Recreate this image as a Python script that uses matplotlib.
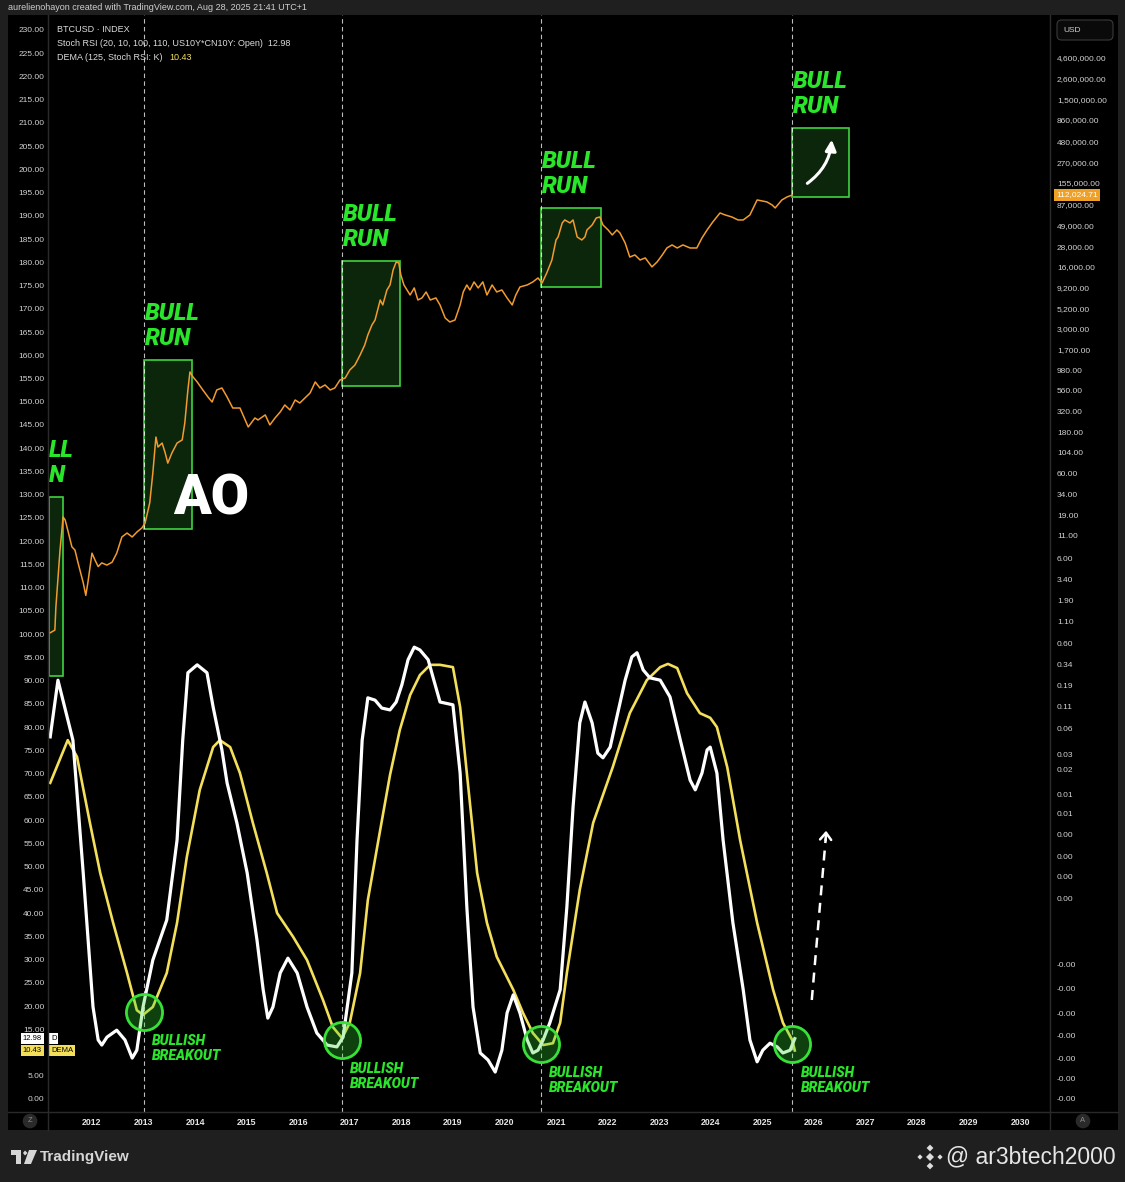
import numpy as np
import matplotlib
matplotlib.use("Agg")
import matplotlib.pyplot as plt
from matplotlib.patches import Rectangle, Polygon, FancyBboxPatch, FancyArrowPatch
from matplotlib import transforms

plt.rcParams['font.family'] = ['Liberation Sans', 'DejaVu Sans']

########################################################
# data
btc_dates = [2011.19, 2011.28, 2011.30, 2011.38, 2011.44, 2011.48, 2011.53, 2011.61, 2011.67, 2011.73,
             2011.83, 2011.88, 2011.92, 2012.00, 2012.06, 2012.12, 2012.19, 2012.29, 2012.39, 2012.48,
             2012.58, 2012.68, 2012.78, 2012.87, 2012.97, 2013.03, 2013.12, 2013.18, 2013.24, 2013.28,
             2013.36, 2013.42, 2013.47, 2013.55, 2013.65, 2013.75, 2013.80, 2013.86, 2013.90, 2013.96,
             2014.04, 2014.15, 2014.25, 2014.33, 2014.42, 2014.52, 2014.62, 2014.73, 2014.87, 2014.97,
             2015.03, 2015.16, 2015.22, 2015.36, 2015.45, 2015.55, 2015.65, 2015.74, 2015.84, 2015.94,
             2016.03, 2016.13, 2016.23, 2016.33, 2016.42, 2016.52, 2016.62, 2016.71, 2016.81, 2016.91,
             2017.00, 2017.10, 2017.20, 2017.29, 2017.35, 2017.43, 2017.49, 2017.59, 2017.64, 2017.72,
             2017.78, 2017.84, 2017.90, 2017.95, 2017.99, 2018.05, 2018.11, 2018.17, 2018.25, 2018.32,
             2018.40, 2018.48, 2018.56, 2018.67, 2018.75, 2018.85, 2018.94, 2019.04, 2019.14, 2019.20,
             2019.27, 2019.33, 2019.41, 2019.49, 2019.58, 2019.66, 2019.76, 2019.85, 2019.95, 2020.05,
             2020.15, 2020.22, 2020.30, 2020.44, 2020.55, 2020.65, 2020.73, 2020.82, 2020.92, 2021.00,
             2021.04, 2021.12, 2021.17, 2021.27, 2021.33, 2021.41, 2021.50, 2021.56, 2021.60, 2021.70,
             2021.78, 2021.85, 2021.91, 2022.01, 2022.09, 2022.18, 2022.24, 2022.34, 2022.43, 2022.53,
             2022.63, 2022.73, 2022.86, 2022.96, 2023.06, 2023.15, 2023.25, 2023.35, 2023.46, 2023.60,
             2023.73, 2023.83, 2023.93, 2024.04, 2024.18, 2024.28, 2024.41, 2024.53, 2024.63, 2024.76,
             2024.90, 2025.00, 2025.09, 2025.19, 2025.25, 2025.38, 2025.48, 2025.58]
btc_prices = [0.80, 0.86, 1.6, 7.5, 18.4, 16.9, 12.9, 8.2, 7.5, 5.3,
              3.1, 2.2, 3.1, 6.9, 5.7, 4.8, 5.3, 5.0, 5.4, 6.9,
              10.7, 11.9, 10.7, 12.2, 13.7, 15.6, 26.9, 60.5, 160, 122,
              136, 104, 79, 104, 136, 148, 234, 572, 931, 813,
              711, 572, 473, 413, 572, 604, 473, 351, 351, 254,
              210, 268, 254, 291, 222, 268, 315, 381, 333, 436,
              402, 461, 527, 711, 604, 655, 572, 604, 750, 791,
              982, 1125, 1475, 1935, 2535, 3325, 3800, 6535, 5710, 8570,
              9810, 14730, 18300, 17800, 12880, 9810, 8570, 7480, 9050, 6535,
              6910, 8120, 6535, 6910, 5710, 4015, 3600, 3800, 5710, 8120,
              9810, 8570, 10650, 9050, 10650, 7480, 9810, 8120, 8570, 6910,
              5710, 7480, 9300, 9810, 10650, 11860, 10360, 13590, 19300, 33170,
              35970, 52600, 57000, 52600, 57000, 35970, 33170, 35970, 43500, 49800,
              60200, 61800, 49800, 43500, 38000, 43500, 40100, 30600, 20900, 22100,
              19300, 20400, 16000, 18300, 22100, 26700, 29000, 26700, 29000, 26700,
              26700, 35000, 43500, 54000, 68900, 65300, 61800, 57000, 57000, 65300,
              98000, 95400, 92900, 85600, 78900, 98000, 106300, 112024.71]

stoch_dates = [2011.19, 2011.34, 2011.63, 2011.83, 2012.02, 2012.12, 2012.19, 2012.29, 2012.48, 2012.64,
               2012.78, 2012.87, 2012.99, 2013.18, 2013.45, 2013.65, 2013.76, 2013.86, 2014.04, 2014.23,
               2014.35, 2014.52, 2014.62, 2014.81, 2015.01, 2015.20, 2015.32, 2015.41, 2015.51, 2015.65,
               2015.80, 2015.98, 2016.17, 2016.36, 2016.56, 2016.75, 2016.87, 2017.04, 2017.14, 2017.24,
               2017.35, 2017.49, 2017.62, 2017.78, 2017.90, 2018.01, 2018.13, 2018.25, 2018.36, 2018.52,
               2018.63, 2018.75, 2019.00, 2019.14, 2019.27, 2019.39, 2019.53, 2019.68, 2019.82, 2019.95,
               2020.05, 2020.17, 2020.30, 2020.44, 2020.55, 2020.65, 2020.75, 2020.88, 2021.08, 2021.21,
               2021.33, 2021.46, 2021.56, 2021.70, 2021.81, 2021.91, 2022.05, 2022.18, 2022.34, 2022.47,
               2022.57, 2022.69, 2022.82, 2023.02, 2023.21, 2023.41, 2023.60, 2023.70, 2023.83, 2023.93,
               2023.99, 2024.12, 2024.24, 2024.43, 2024.63, 2024.76, 2024.90, 2025.01, 2025.15, 2025.29,
               2025.40, 2025.54, 2025.63]
stoch_k = [77.9, 90.1, 77.2, 48.6, 19.8, 12.7, 11.6, 13.3, 14.8, 12.7,
           8.8, 10.5, 19.8, 29.9, 38.5, 55.7, 77.2, 91.7, 93.4, 91.7,
           84.3, 75.1, 68.0, 59.4, 48.6, 34.2, 23.5, 17.4, 19.8, 27.1,
           30.3, 27.1, 19.8, 14.2, 11.6, 11.2, 13.3, 27.1, 55.7, 77.2,
           86.3, 85.8, 84.1, 83.7, 85.4, 89.1, 94.5, 97.2, 96.6, 94.5,
           90.1, 85.4, 84.8, 70.1, 41.3, 19.8, 9.9, 8.4, 5.8, 10.5,
           18.5, 22.4, 18.5, 12.7, 9.9, 10.5, 12.7, 16.4, 23.5, 41.3,
           62.8, 80.9, 85.4, 80.9, 74.4, 73.4, 75.7, 82.2, 90.1, 95.1,
           96.0, 92.3, 90.6, 90.1, 86.5, 77.2, 68.6, 66.5, 70.1, 75.1,
           75.7, 70.1, 55.7, 37.9, 23.5, 12.7, 8.0, 10.5, 12.0, 11.2,
           9.9, 10.5, 12.98]

dema_dates = [2011.19, 2011.53, 2011.71, 2011.96, 2012.16, 2012.41, 2012.68, 2012.87, 2012.99, 2013.18,
              2013.45, 2013.65, 2013.84, 2014.09, 2014.35, 2014.48, 2014.68, 2014.87, 2015.12, 2015.39,
              2015.59, 2015.90, 2016.17, 2016.48, 2016.67, 2016.85, 2017.00, 2017.20, 2017.35, 2017.59,
              2017.78, 2017.97, 2018.17, 2018.36, 2018.56, 2018.75, 2019.00, 2019.14, 2019.27, 2019.47,
              2019.66, 2019.85, 2020.17, 2020.36, 2020.55, 2020.75, 2020.94, 2021.08, 2021.21, 2021.46,
              2021.72, 2022.10, 2022.43, 2022.76, 2023.02, 2023.17, 2023.35, 2023.54, 2023.79, 2023.99,
              2024.12, 2024.32, 2024.57, 2024.90, 2025.21, 2025.40, 2025.58, 2025.63]
dema_vals = [68.0, 77.2, 73.6, 59.4, 48.6, 37.9, 27.1, 19.1, 18.1, 19.8,
             27.1, 37.9, 52.1, 66.5, 75.7, 77.2, 75.7, 70.1, 59.4, 48.6,
             40.0, 34.9, 29.9, 21.3, 15.5, 13.1, 16.4, 27.1, 42.8, 57.9,
             69.7, 79.4, 86.9, 91.2, 93.4, 93.4, 92.9, 84.3, 70.1, 48.6,
             37.9, 30.6, 23.5, 18.5, 14.2, 11.6, 12.0, 16.4, 27.1, 45.0,
             59.4, 71.4, 83.0, 90.1, 92.9, 93.6, 92.7, 87.3, 83.0, 82.0,
             80.0, 71.4, 55.7, 37.9, 23.5, 16.4, 12.7, 10.43]

# bull run boxes (start, end, low price, high price)
bull_starts = [2011.17, 2013.01, 2016.85, 2020.71, 2025.58]
bull_ends = [2011.44, 2013.94, 2017.97, 2021.87, 2026.68]
bull_lows = [0.25, 13.3, 637, 9300, 106300]
bull_highs = [31.6, 1289, 18800, 78900, 688000]

breakout_dates = [2013.01, 2016.85, 2020.71, 2025.58]
breakout_levels = [18.7, 12.7, 11.8, 11.8]

years = list(range(2012, 2031))
left_ticks = np.arange(0, 231, 5)
price_ticks = [4600000, 2600000, 1500000, 860000, 480000, 270000, 155000, 87000, 49000, 28000,
               16000, 9200, 5200, 3000, 1700, 980, 560, 320, 180, 104, 60, 34, 19, 11, 6, 3.4,
               1.9, 1.1, 0.6, 0.34, 0.19, 0.11, 0.06, 0.03, 0.02, 0.01, 0.006, 0.0034, 0.0019,
               0.0011, 0.0006]
neg_tick_levels = [29, 23.7, 18.3, 13.6, 8.8, 4.3, 0]

last_price = 112024.71
last_k = 12.98
last_dema = 10.43


# the log price scale sits on the same panel as the oscillator (0..230)
def price_level(p):
    return 224.0 + 18.3 * (np.log10(p) - np.log10(4.6e6))


########################################################
W, H = 1125, 1182
GREEN = '#2ae62a'


def px(x, y):
    return x / W, 1 - y / H


fig = plt.figure(figsize=(11.25, 11.82), dpi=100, facecolor='#1f1f1f')

x0, y0 = px(8, 1130)
x1, y1 = px(1118, 15)
fig.add_artist(Rectangle((x0, y0), x1 - x0, y1 - y0, transform=fig.transFigure,
                         facecolor='black', edgecolor='none', zorder=0))

l, b = px(48, 1112)
r, t = px(1050, 15)
ax = fig.add_axes([l, b, r - l, t - b])
ax.set_facecolor('black')
ax.set_xlim(2011.147, 2030.58)
ax.set_ylim(-2.8, 233.2)

ax.spines['top'].set_visible(False)
for s in ['left', 'right', 'bottom']:
    ax.spines[s].set_color('#2a2a2a')

# the 10.00 label is hidden under the value tags
ax.set_yticks(left_ticks)
ax.set_yticklabels(['' if v == 10 else '%.2f' % v for v in left_ticks])
ax.tick_params(axis='y', length=0, pad=2.5, labelsize=6, labelcolor='#d2d2d2')
ax.set_xticks(years)
ax.set_xticklabels([str(y) for y in years], fontweight='bold')
ax.tick_params(axis='x', length=0, pad=4, labelsize=6.3, labelcolor='#e6e6e6')

ax2 = ax.twinx()
ax2.set_ylim(ax.get_ylim())
for s in ax2.spines.values():
    s.set_visible(False)
tick_pos = [price_level(p) for p in price_ticks] + neg_tick_levels
tick_lab = ['{:,.2f}'.format(p) for p in price_ticks] + ['-0.00'] * len(neg_tick_levels)
ax2.set_yticks(tick_pos)
ax2.set_yticklabels(tick_lab)
ax2.tick_params(axis='y', length=0, pad=5, labelsize=6, labelcolor='#d2d2d2')

# bull run boxes
for s0, s1, lo, hi in zip(bull_starts, bull_ends, bull_lows, bull_highs):
    ax.add_patch(Rectangle((s0, price_level(lo)), s1 - s0, price_level(hi) - price_level(lo),
                           facecolor='#0c260c', edgecolor='#3fd33f', lw=1.2, zorder=1))
for s0, hi in zip(bull_starts[1:], bull_highs[1:]):
    ax.text(s0 + 0.01, price_level(hi) + 2.2, 'BULL\nRUN', ha='left', va='bottom', fontsize=17,
            family='Roboto', fontweight='black', style='italic', color=GREEN, linespacing=1.1, zorder=8)
# the first label is cut by the left edge of the chart: only its tail shows
ax.text(2011.16, price_level(bull_highs[0]) + 2.2, 'LL\nN', ha='left', va='bottom',
        fontsize=17, family='Roboto', fontweight='black', style='italic', color=GREEN,
        linespacing=1.1, zorder=8)

for d in breakout_dates:
    ax.axvline(d, color='white', lw=0.8, alpha=0.75, ls=(0, (4, 3)), zorder=2)

# lines
ax.plot(btc_dates, price_level(np.array(btc_prices)), color='#f29b2e', lw=1.1, zorder=3)
ax.plot(dema_dates, dema_vals, color='#f3df5a', lw=1.9, zorder=4, solid_joinstyle='round')
ax.plot(stoch_dates, stoch_k, color='white', lw=2.3, zorder=5, solid_joinstyle='round')

# breakout circles
ax.plot(breakout_dates, breakout_levels, 'o', ms=26, mfc=(0.2, 0.85, 0.2, 0.3), mec='#38e038',
        mew=2, zorder=6)
for d, lv in zip(breakout_dates, breakout_levels):
    ax.annotate('BULLISH\nBREAKOUT', xy=(d, lv), xytext=(6, -16), textcoords='offset points',
                ha='left', va='top', fontsize=10, family='Roboto', fontweight='black', style='italic',
                color=GREEN, linespacing=1.05, zorder=8)

ax.text(2014.31, 129.1, 'AO', ha='center', va='center', fontsize=40, family='Roboto',
        fontweight='black', color='white', zorder=8)

# arrows
ax.add_patch(FancyArrowPatch((2025.83, price_level(1.47e5)), (2026.35, price_level(5.4e5)),
                             connectionstyle='arc3,rad=0.25', arrowstyle='-|>', mutation_scale=16,
                             color='white', lw=2.2, zorder=8))
ax.plot([2025.96, 2026.23], [21.3, 56.0], color='white', lw=1.8, ls=(0, (4, 3)), zorder=8)
ax.annotate('', xy=(2026.24, 58.3), xytext=(2026.225, 55.0),
            arrowprops=dict(arrowstyle='->,head_length=0.5,head_width=0.4', color='white', lw=1.8),
            zorder=8)

# value tags on the scales
blend = transforms.blended_transform_factory(ax.transAxes, ax.transData)
ax.text(-0.025, last_k, '%.2f' % last_k, transform=blend, ha='left', va='center', fontsize=5.5,
        color='black', bbox=dict(boxstyle='square,pad=0.25', fc='white', ec='none'),
        zorder=10, clip_on=False)
ax.text(0.003, last_k, 'D', transform=blend, ha='left', va='center', fontsize=5.5,
        color='black', bbox=dict(boxstyle='square,pad=0.25', fc='white', ec='none'),
        zorder=10, clip_on=False)
ax.text(-0.025, last_dema, '%.2f' % last_dema, transform=blend, ha='left', va='center', fontsize=5.5,
        color='black', bbox=dict(boxstyle='square,pad=0.25', fc='#f3df5a', ec='none'),
        zorder=10, clip_on=False)
ax.text(0.003, last_dema, 'DEMA', transform=blend, ha='left', va='center', fontsize=5.5,
        color='black', bbox=dict(boxstyle='square,pad=0.25', fc='#f3df5a', ec='none'),
        zorder=10, clip_on=False)
blend2 = transforms.blended_transform_factory(ax2.transAxes, ax2.transData)
ax2.text(1.006, price_level(last_price), '{:,.2f}'.format(last_price), transform=blend2,
         ha='left', va='center', fontsize=6, color='white',
         bbox=dict(boxstyle='square,pad=0.25', fc='#f0a024', ec='none'), zorder=10, clip_on=False)

# separators
for xx in [48, 1050]:
    fig.add_artist(plt.Line2D([xx / W, xx / W], [px(0, 1130)[1], px(0, 15)[1]],
                              transform=fig.transFigure, color='#2a2a2a', lw=1))
fig.add_artist(plt.Line2D([8 / W, 1118 / W], [px(0, 1112)[1]] * 2, transform=fig.transFigure,
                          color='#2a2a2a', lw=1))

# header / legend texts
fig.text(*px(8, 7), 'aurelienohayon created with TradingView.com, Aug 28, 2025 21:41 UTC+1',
         fontsize=6.5, color='#cfcfcf', va='center', ha='left')
fig.text(*px(57, 29), 'BTCUSD · INDEX', fontsize=6.5, color='#dcdcdc', va='center')
fig.text(*px(57, 43), 'Stoch RSI (20, 10, 100, 110, US10Y*CN10Y: Open)  %.2f' % last_k,
         fontsize=6.5, color='#dcdcdc', va='center')
fig.text(*px(57, 57), 'DEMA (125, Stoch RSI: K)', fontsize=6.5, color='#dcdcdc', va='center')
fig.text(*px(169, 57), '%.2f' % last_dema, fontsize=6.5, color='#f3df5a', va='center')

ux, uy = px(1057, 40)
ux2, uy2 = px(1113, 20)
fig.add_artist(FancyBboxPatch((ux, uy), ux2 - ux, uy2 - uy, boxstyle='round,pad=0,rounding_size=0.004',
                              transform=fig.transFigure, fc='#0a0a0a', ec='#3a3a3a', lw=0.8))
fig.text(*px(1063, 30), 'USD', fontsize=6, color='#cfcfcf', va='center')

fig.text(*px(30, 1121), 'Z', fontsize=5.5, color='#8a8a8a', ha='center', va='center',
         bbox=dict(boxstyle='circle,pad=0.5', fc='#2a2a2a', ec='none'))
fig.text(*px(1083, 1121), 'A', fontsize=5.5, color='#8a8a8a', ha='center', va='center',
         bbox=dict(boxstyle='circle,pad=0.5', fc='#2a2a2a', ec='none'))

# TradingView logo
logo_col = '#d6d6d6'
for pts in [[(11, 1150), (21, 1150), (21, 1155), (11, 1155)],
            [(16, 1150), (21, 1150), (21, 1164), (16, 1164)],
            [(29, 1150), (37, 1150), (31, 1164), (24, 1164)]]:
    fig.add_artist(Polygon([px(*p) for p in pts], closed=True, transform=fig.transFigure,
                           fc=logo_col, ec='none'))
fig.add_artist(Polygon([px(23, 1153), px(25, 1150.5), px(27.5, 1153), px(25, 1155.5)], closed=True,
                       transform=fig.transFigure, fc=logo_col, ec='none'))
fig.text(*px(40, 1157), 'TradingView', fontsize=11, fontweight='bold', color=logo_col, va='center')

# watermark
for cx, cy, hd in [(930, 1157, 4), (920, 1157, 2.6), (940, 1157, 2.6), (930, 1148, 3.4), (930, 1166, 3.4)]:
    fig.add_artist(Polygon([px(cx - hd, cy), px(cx, cy - hd), px(cx + hd, cy), px(cx, cy + hd)],
                           closed=True, transform=fig.transFigure, fc='#dedede', ec='none'))
fig.text(*px(946, 1157), '@ ar3btech2000', fontsize=16.5, color='#e6e6e6', va='center')

fig.savefig('out.png', dpi=100, facecolor=fig.get_facecolor())
